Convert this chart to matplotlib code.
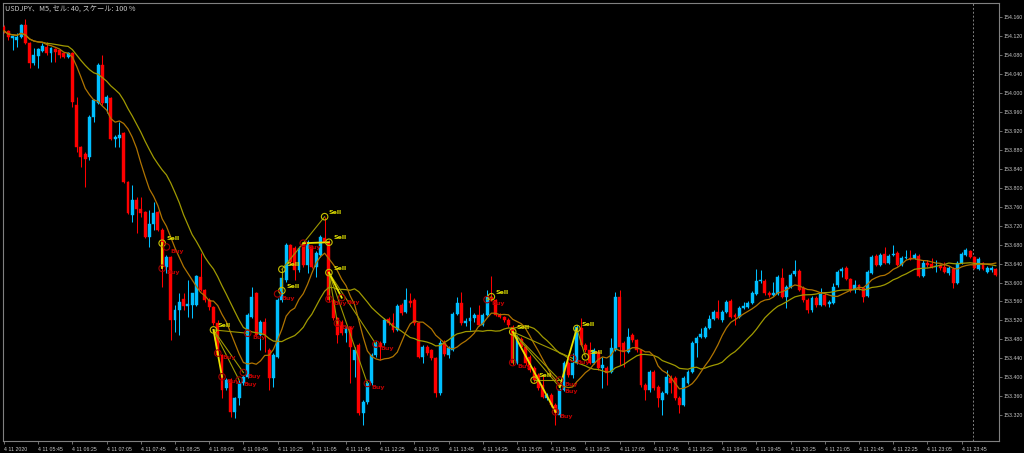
import numpy as np
import pandas as pd
import matplotlib
matplotlib.use('Agg')
import matplotlib.pyplot as plt

# USDJPY M5 candles (open, high, low, close)
opens = [154.139, 154.131, 154.116, 154.112, 154.118, 154.143, 154.105, 154.063, 154.078, 154.088,
         154.097, 154.084, 154.093, 154.091, 154.084, 154.076, 154.084, 153.974, 153.886, 153.871,
         153.865, 153.949, 153.979, 154.059, 153.979, 153.989, 153.903, 153.905, 153.915, 153.812,
         153.742, 153.774, 153.755, 153.749, 153.696, 153.723, 153.749, 153.711, 153.633, 153.654,
         153.521, 153.542, 153.565, 153.550, 153.552, 153.552, 153.612, 153.584, 153.563, 153.548,
         153.515, 153.447, 153.377, 153.394, 153.327, 153.356, 153.388, 153.401, 153.527, 153.578,
         153.489, 153.517, 153.457, 153.398, 153.443, 153.563, 153.605, 153.679, 153.673, 153.626,
         153.683, 153.637, 153.675, 153.633, 153.658, 153.694, 153.685, 153.563, 153.525, 153.517,
         153.493, 153.504, 153.436, 153.468, 153.325, 153.348, 153.388, 153.447, 153.472, 153.472,
         153.523, 153.515, 153.500, 153.552, 153.538, 153.561, 153.563, 153.515, 153.443, 153.464,
         153.457, 153.441, 153.367, 153.472, 153.447, 153.457, 153.533, 153.557, 153.515, 153.519,
         153.525, 153.531, 153.510, 153.531, 153.569, 153.563, 153.531, 153.527, 153.521, 153.506,
         153.430, 153.481, 153.464, 153.443, 153.420, 153.405, 153.384, 153.356, 153.363, 153.341,
         153.320, 153.373, 153.430, 153.405, 153.430, 153.504, 153.468, 153.457, 153.430, 153.453,
         153.420, 153.420, 153.411, 153.457, 153.569, 153.472, 153.453, 153.489, 153.479, 153.457,
         153.384, 153.373, 153.411, 153.379, 153.352, 153.367, 153.398, 153.398, 153.356, 153.341,
         153.388, 153.411, 153.472, 153.485, 153.485, 153.504, 153.523, 153.538, 153.521, 153.538,
         153.561, 153.531, 153.527, 153.546, 153.548, 153.557, 153.576, 153.603, 153.603, 153.578,
         153.574, 153.576, 153.609, 153.569, 153.590, 153.618, 153.624, 153.588, 153.563, 153.542,
         153.567, 153.552, 153.574, 153.555, 153.557, 153.595, 153.624, 153.631, 153.607, 153.584,
         153.595, 153.588, 153.571, 153.620, 153.656, 153.637, 153.660, 153.641, 153.658, 153.662,
         153.637, 153.652, 153.652, 153.652, 153.656, 153.614, 153.641, 153.639, 153.633, 153.637,
         153.633, 153.620, 153.628, 153.599, 153.641, 153.658, 153.666, 153.654, 153.628, 153.641,
         153.622, 153.626, 153.628]
highs = [154.143, 154.133, 154.120, 154.126, 154.145, 154.156, 154.107, 154.095, 154.095, 154.105,
         154.107, 154.097, 154.095, 154.093, 154.086, 154.086, 154.086, 153.991, 153.888, 153.875,
         153.953, 153.987, 154.063, 154.080, 153.996, 153.991, 153.911, 153.939, 153.917, 153.814,
         153.806, 153.780, 153.780, 153.751, 153.753, 153.770, 153.751, 153.715, 153.658, 153.656,
         153.552, 153.578, 153.578, 153.605, 153.578, 153.616, 153.662, 153.586, 153.567, 153.550,
         153.521, 153.449, 153.398, 153.398, 153.358, 153.394, 153.405, 153.536, 153.590, 153.580,
         153.521, 153.525, 153.462, 153.451, 153.567, 153.631, 153.683, 153.681, 153.677, 153.677,
         153.685, 153.690, 153.679, 153.666, 153.700, 153.738, 153.690, 153.565, 153.527, 153.521,
         153.508, 153.508, 153.464, 153.472, 153.352, 153.392, 153.451, 153.477, 153.477, 153.525,
         153.527, 153.536, 153.555, 153.557, 153.588, 153.578, 153.567, 153.517, 153.468, 153.468,
         153.460, 153.443, 153.479, 153.479, 153.466, 153.538, 153.569, 153.580, 153.525, 153.548,
         153.536, 153.552, 153.536, 153.584, 153.614, 153.565, 153.536, 153.529, 153.525, 153.510,
         153.489, 153.485, 153.468, 153.447, 153.424, 153.409, 153.405, 153.367, 153.367, 153.346,
         153.377, 153.434, 153.434, 153.451, 153.510, 153.525, 153.472, 153.474, 153.462, 153.457,
         153.443, 153.424, 153.483, 153.580, 153.584, 153.477, 153.504, 153.493, 153.481, 153.460,
         153.388, 153.415, 153.415, 153.384, 153.371, 153.415, 153.405, 153.403, 153.360, 153.403,
         153.415, 153.477, 153.487, 153.504, 153.508, 153.531, 153.542, 153.563, 153.542, 153.563,
         153.565, 153.536, 153.550, 153.559, 153.561, 153.582, 153.628, 153.626, 153.607, 153.582,
         153.601, 153.616, 153.631, 153.595, 153.620, 153.647, 153.628, 153.593, 153.567, 153.571,
         153.571, 153.588, 153.578, 153.563, 153.599, 153.626, 153.633, 153.635, 153.609, 153.605,
         153.597, 153.590, 153.626, 153.658, 153.660, 153.662, 153.675, 153.660, 153.679, 153.666,
         153.656, 153.669, 153.669, 153.662, 153.660, 153.647, 153.647, 153.652, 153.647, 153.639,
         153.643, 153.635, 153.633, 153.645, 153.664, 153.673, 153.669, 153.656, 153.654, 153.643,
         153.635, 153.635, 153.631]
lows = [154.126, 154.112, 154.091, 154.097, 154.116, 154.103, 154.053, 154.059, 154.053, 154.086,
        154.080, 154.065, 154.065, 154.074, 154.074, 154.074, 153.970, 153.875, 153.844, 153.801,
        153.858, 153.939, 153.977, 153.974, 153.958, 153.901, 153.886, 153.886, 153.810, 153.744,
        153.728, 153.704, 153.738, 153.694, 153.675, 153.711, 153.709, 153.590, 153.620, 153.479,
        153.495, 153.489, 153.542, 153.527, 153.525, 153.550, 153.582, 153.559, 153.542, 153.510,
        153.445, 153.356, 153.373, 153.316, 153.314, 153.341, 153.384, 153.398, 153.525, 153.487,
        153.457, 153.453, 153.373, 153.379, 153.441, 153.559, 153.601, 153.639, 153.605, 153.622,
        153.633, 153.620, 153.631, 153.612, 153.654, 153.683, 153.559, 153.521, 153.472, 153.489,
        153.474, 153.388, 153.401, 153.320, 153.299, 153.344, 153.384, 153.443, 153.436, 153.468,
        153.510, 153.495, 153.498, 153.531, 153.536, 153.548, 153.510, 153.441, 153.430, 153.447,
        153.436, 153.358, 153.363, 153.445, 153.441, 153.455, 153.531, 153.510, 153.508, 153.500,
        153.517, 153.508, 153.508, 153.529, 153.561, 153.529, 153.525, 153.517, 153.506, 153.426,
        153.428, 153.460, 153.426, 153.411, 153.390, 153.373, 153.356, 153.352, 153.337, 153.299,
        153.316, 153.371, 153.401, 153.398, 153.428, 153.466, 153.453, 153.428, 153.428, 153.415,
        153.377, 153.384, 153.409, 153.455, 153.426, 153.422, 153.451, 153.474, 153.453, 153.379,
        153.352, 153.369, 153.373, 153.337, 153.320, 153.365, 153.367, 153.352, 153.325, 153.339,
        153.386, 153.409, 153.443, 153.483, 153.483, 153.502, 153.521, 153.523, 153.517, 153.536,
        153.525, 153.510, 153.525, 153.544, 153.546, 153.555, 153.574, 153.599, 153.574, 153.569,
        153.571, 153.574, 153.567, 153.546, 153.588, 153.614, 153.582, 153.559, 153.536, 153.538,
        153.548, 153.550, 153.550, 153.548, 153.555, 153.590, 153.612, 153.605, 153.580, 153.578,
        153.584, 153.559, 153.569, 153.618, 153.635, 153.635, 153.639, 153.639, 153.656, 153.635,
        153.635, 153.650, 153.647, 153.650, 153.612, 153.612, 153.633, 153.631, 153.622, 153.626,
        153.620, 153.616, 153.588, 153.597, 153.639, 153.656, 153.652, 153.628, 153.626, 153.626,
        153.620, 153.622, 153.614]
closes = [154.131, 154.118, 154.120, 154.118, 154.143, 154.105, 154.063, 154.080, 154.093, 154.099,
          154.084, 154.095, 154.086, 154.080, 154.076, 154.084, 153.981, 153.886, 153.865, 153.861,
          153.949, 153.985, 154.059, 153.979, 153.991, 153.903, 153.907, 153.911, 153.812, 153.747,
          153.774, 153.755, 153.747, 153.696, 153.723, 153.747, 153.711, 153.633, 153.654, 153.521,
          153.542, 153.559, 153.550, 153.555, 153.578, 153.614, 153.584, 153.563, 153.548, 153.515,
          153.447, 153.373, 153.394, 153.327, 153.356, 153.388, 153.401, 153.531, 153.569, 153.489,
          153.517, 153.489, 153.398, 153.447, 153.563, 153.609, 153.679, 153.643, 153.626, 153.673,
          153.637, 153.685, 153.633, 153.662, 153.696, 153.685, 153.563, 153.525, 153.489, 153.493,
          153.504, 153.464, 153.457, 153.325, 153.348, 153.388, 153.447, 153.472, 153.464, 153.521,
          153.515, 153.500, 153.550, 153.536, 153.563, 153.557, 153.515, 153.443, 153.464, 153.451,
          153.441, 153.367, 153.472, 153.449, 153.462, 153.533, 153.557, 153.515, 153.519, 153.525,
          153.531, 153.510, 153.531, 153.569, 153.563, 153.531, 153.527, 153.521, 153.510, 153.430,
          153.485, 153.464, 153.430, 153.415, 153.394, 153.377, 153.358, 153.363, 153.341, 153.325,
          153.373, 153.430, 153.405, 153.430, 153.506, 153.468, 153.457, 153.430, 153.457, 153.420,
          153.426, 153.409, 153.462, 153.569, 153.464, 153.453, 153.485, 153.479, 153.457, 153.384,
          153.373, 153.411, 153.377, 153.356, 153.367, 153.401, 153.388, 153.356, 153.341, 153.398,
          153.411, 153.472, 153.483, 153.491, 153.504, 153.523, 153.538, 153.525, 153.538, 153.559,
          153.527, 153.527, 153.546, 153.550, 153.557, 153.578, 153.603, 153.605, 153.578, 153.574,
          153.578, 153.612, 153.569, 153.590, 153.616, 153.624, 153.584, 153.563, 153.542, 153.567,
          153.552, 153.576, 153.552, 153.559, 153.590, 153.622, 153.628, 153.607, 153.584, 153.595,
          153.586, 153.569, 153.622, 153.654, 153.637, 153.658, 153.641, 153.656, 153.660, 153.637,
          153.652, 153.654, 153.650, 153.658, 153.614, 153.641, 153.637, 153.633, 153.635, 153.631,
          153.622, 153.631, 153.599, 153.641, 153.660, 153.669, 153.654, 153.631, 153.650, 153.628,
          153.631, 153.631, 153.616]

# Sell / Buy signals (bar index, price)
sell_bars = [37, 49, 65, 65, 75, 76, 76, 114, 119, 124, 134, 136]
sell_prices = [153.683, 153.500, 153.583, 153.628, 153.739, 153.685, 153.621,
               153.570, 153.496, 153.394, 153.503, 153.443]
buy_bars = [38, 37, 50, 51, 55, 56, 57, 64, 70, 76, 79, 78, 87, 85, 113, 119, 129, 130, 130, 133]
buy_prices = [153.675, 153.630, 153.451, 153.401, 153.394, 153.410, 153.493, 153.576, 153.683,
              153.565, 153.568, 153.514, 153.470, 153.387, 153.564, 153.431, 153.327, 153.394,
              153.379, 153.440]

# signal links (bar1, price1, bar2, price2)
strong_links = [(37, 153.683, 37, 153.630), (49, 153.500, 51, 153.401),
                (70, 153.683, 76, 153.685), (76, 153.621, 79, 153.568),
                (119, 153.496, 129, 153.327), (130, 153.379, 134, 153.503)]
weak_links = [(49, 153.500, 50, 153.451), (49, 153.500, 55, 153.394), (49, 153.500, 56, 153.410),
              (49, 153.500, 57, 153.493), (65, 153.583, 65, 153.628), (65, 153.628, 70, 153.683),
              (70, 153.683, 75, 153.739), (76, 153.621, 78, 153.514), (76, 153.621, 85, 153.387),
              (76, 153.621, 87, 153.470), (76, 153.621, 76, 153.565), (119, 153.496, 130, 153.379),
              (119, 153.496, 130, 153.394), (119, 153.496, 133, 153.440), (124, 153.394, 130, 153.394),
              (119, 153.496, 119, 153.431), (134, 153.503, 136, 153.443), (113, 153.564, 114, 153.570)]

price_ticks = [153.320, 153.360, 153.400, 153.440, 153.480, 153.520, 153.560, 153.600, 153.640,
               153.680, 153.720, 153.760, 153.800, 153.840, 153.880, 153.920, 153.960, 154.000,
               154.040, 154.080, 154.120, 154.160]
time_labels = ['4 11 2020', '4 11 05:45', '4 11 06:25', '4 11 07:05', '4 11 07:45', '4 11 08:25',
               '4 11 09:05', '4 11 09:45', '4 11 10:25', '4 11 11:05', '4 11 11:45', '4 11 12:25',
               '4 11 13:05', '4 11 13:45', '4 11 14:25', '4 11 15:05', '4 11 15:45', '4 11 16:25',
               '4 11 17:05', '4 11 17:45', '4 11 18:25', '4 11 19:05', '4 11 19:45', '4 11 20:25',
               '4 11 21:05', '4 11 21:45', '4 11 22:25', '4 11 23:05', '4 11 23:45']
label_step = 8
separator_bar = 226.6
title = 'USDJPY、M5, セル: 40, スケール: 100 %'

df = pd.DataFrame({'open': opens, 'high': highs, 'low': lows, 'close': closes})
df['ma_fast'] = df['close'].rolling(10, min_periods=1).mean()
df['ma_slow'] = df['close'].rolling(20, min_periods=1).mean()
x = np.arange(len(df))
up = df['close'] >= df['open']

RED = '#FF0000'
BLUE = '#00BFFF'
GRID = '#808080'
TXT = '#C8C8C8'

fig = plt.figure(figsize=(10.24, 4.53), dpi=100, facecolor='black')
ax = fig.add_axes([3 / 1024, 12 / 453, 996 / 1024, 438 / 453], facecolor='black')

# wicks + bodies
colors = np.where(up, BLUE, RED)
ax.vlines(x, df['low'], df['high'], colors=colors, linewidth=0.75, zorder=2)
body_lo = np.minimum(df['open'], df['close'])
body_h = np.maximum(np.abs(df['close'] - df['open']), 0.0015)
ax.bar(x, body_h, bottom=body_lo, width=0.68, color=colors, edgecolor=colors,
       linewidth=0.3, zorder=3)

# moving averages
ax.plot(x, df['ma_slow'], color='#A09A00', linewidth=0.9, zorder=4)
ax.plot(x, df['ma_fast'], color='#B07400', linewidth=0.9, zorder=4)

# signal lines
for b1, p1, b2, p2 in weak_links:
    ax.plot([b1, b2], [p1, p2], color='#9E9800', linewidth=0.8, zorder=5)
for b1, p1, b2, p2 in strong_links:
    ax.plot([b1, b2], [p1, p2], color='#E8E000', linewidth=1.3, zorder=5)

# signal markers + labels
ax.scatter(sell_bars, sell_prices, s=22, facecolors='none', edgecolors='#C8C000',
           linewidths=0.8, zorder=6)
ax.scatter(buy_bars, buy_prices, s=22, facecolors='none', edgecolors='#A00000',
           linewidths=0.8, zorder=6)
for b, p in zip(sell_bars, sell_prices):
    ax.text(b + 1.0, p + 0.004, 'Sell', color='#E0E000', fontsize=4.5, fontweight='bold',
            ha='left', va='bottom', zorder=7)
for b, p in zip(buy_bars, buy_prices):
    ax.text(b + 1.0, p - 0.004, 'Buy', color='#C00000', fontsize=4.5, fontweight='bold',
            ha='left', va='top', zorder=7)

ax.axvline(separator_bar, color=GRID, linestyle=(0, (2, 2)), linewidth=0.7, zorder=1)

# axes layout
ax.set_xlim(-1 / 4.275, 995 / 4.275)
ax.set_ylim(153.2655, 154.190)
for s in ax.spines.values():
    s.set_color(GRID)
    s.set_linewidth(0.8)

ax.yaxis.tick_right()
ax.set_yticks(price_ticks)
ax.set_yticklabels([f'{p:.3f}' for p in price_ticks])
ax.set_xticks(np.arange(len(time_labels)) * label_step)
ax.set_xticklabels(time_labels)
ax.tick_params(axis='both', colors=GRID, labelcolor=TXT, labelsize=3.8, length=2.5,
               width=0.6, pad=1)
ax.tick_params(axis='x', pad=1.5)
for lbl in ax.get_xticklabels() + ax.get_yticklabels():
    lbl.set_family('Liberation Sans')
for lbl in ax.get_xticklabels():
    lbl.set_horizontalalignment('left')

fig.text(5 / 1024, 1 - 9 / 453, title, color=TXT, fontsize=5.2, va='center', ha='left',
         family=['Noto Sans CJK JP', 'DejaVu Sans'])

plt.savefig('out.png', dpi=100, facecolor='black')
